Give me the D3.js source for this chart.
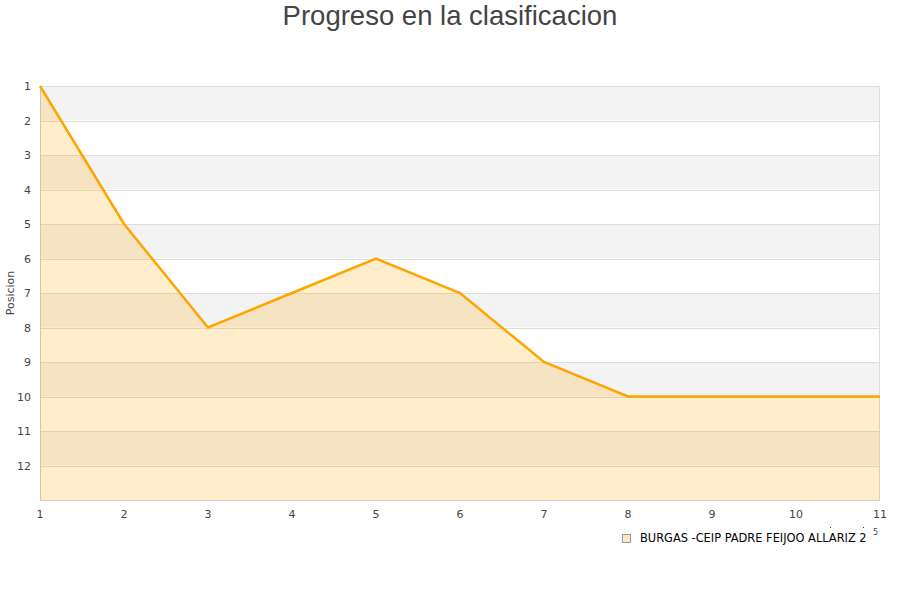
<!DOCTYPE html>
<html><head><meta charset="utf-8">
<script src="https://cdn.jsdelivr.net/npm/d3@7"></script>
<style>body{margin:0;background:#fff}svg{display:block}</style>
</head><body>
<svg id="c" width="900" height="600"></svg>
<script>
const jornadas = [1,2,3,4,5,6,7,8,9,10,11];
const posiciones = [1,5,8,7,6,7,9,10,10,10,10];
const yTicks = [1,2,3,4,5,6,7,8,9,10,11,12];
const seriesName = "BURGAS -CEIP PADRE FEIJOO ALLARIZ 2";
const title = "Progreso en la clasificacion";
const yTitle = "Posicion";

const svg = d3.select("#c");
const L=40,R=880,T=86,B=500;
const x = d3.scaleLinear().domain([1,11]).range([L,R]);
const y = d3.scaleLinear().domain([1,13]).range([T,B]);

const bands = d3.range(1,13);
svg.append("g").selectAll("rect").data(bands).join("rect")
  .attr("x",L).attr("width",R-L)
  .attr("y",d=>y(d)).attr("height",d=>y(d+1)-y(d))
  .attr("fill",d=>d%2===1?"#f3f3f3":"#ffffff");
svg.append("g").selectAll("line").data(d3.range(1,14)).join("line")
  .attr("x1",L).attr("x2",R).attr("y1",d=>Math.round(y(d))+0.5).attr("y2",d=>Math.round(y(d))+0.5)
  .attr("stroke","#dddddd").attr("stroke-width",1);
svg.append("rect").attr("x",L+0.5).attr("y",T+0.5).attr("width",R-L-1).attr("height",B-T)
  .attr("fill","none").attr("stroke","#dddddd");
svg.append("line").attr("x1",L+0.5).attr("x2",L+0.5).attr("y1",T).attr("y2",B+1).attr("stroke","#cccccc");
svg.append("line").attr("x1",L).attr("x2",R).attr("y1",B+0.5).attr("y2",B+0.5).attr("stroke","#cccccc");

const data = jornadas.map((j,i)=>({j,p:posiciones[i]}));
svg.append("path").datum(data)
  .attr("d",d3.area().x(d=>x(d.j)).y0(B).y1(d=>y(d.p)))
  .attr("fill","rgba(255,165,0,0.2)");
svg.append("path").datum(data)
  .attr("d",d3.line().x(d=>x(d.j)).y(d=>y(d.p)))
  .attr("fill","none").attr("stroke","#ffa500").attr("stroke-width",2.5).attr("stroke-linejoin","miter");

svg.append("g").selectAll("text").data(yTicks).join("text")
  .attr("x",31).attr("y",d=>y(d)+4).attr("text-anchor","end")
  .attr("font-family","DejaVu Sans").attr("font-size",11).attr("fill","#444")
  .text(d=>d);
svg.append("g").selectAll("text").data(jornadas).join("text")
  .attr("x",d=>x(d)).attr("y",518).attr("text-anchor","middle")
  .attr("font-family","DejaVu Sans").attr("font-size",11).attr("fill","#444")
  .text(d=>d);
svg.append("text").attr("transform","translate(14,293) rotate(-90)")
  .attr("text-anchor","middle").attr("font-family","DejaVu Sans").attr("font-size",11).attr("fill","#444")
  .text(yTitle);
svg.append("text").attr("x",450).attr("y",25).attr("text-anchor","middle")
  .attr("font-family","Liberation Sans").attr("font-size",27.5).attr("fill","#444")
  .text(title);
svg.append("rect").attr("x",622.5).attr("y",534.5).attr("width",8).attr("height",8)
  .attr("fill","#ffe9c0").attr("stroke","#999");
svg.append("text").attr("x",640).attr("y",542).attr("font-family","DejaVu Sans").attr("font-size",11.4).attr("fill","#000")
  .text(seriesName);
svg.append("text").attr("x",873).attr("y",535).attr("font-family","DejaVu Sans").attr("font-size",8).attr("fill","#444").text("5");
svg.append("g").selectAll("rect").data([830,863]).join("rect")
  .attr("x",d=>d).attr("y",527).attr("width",1).attr("height",1).attr("fill","#444");
</script>
</body></html>
